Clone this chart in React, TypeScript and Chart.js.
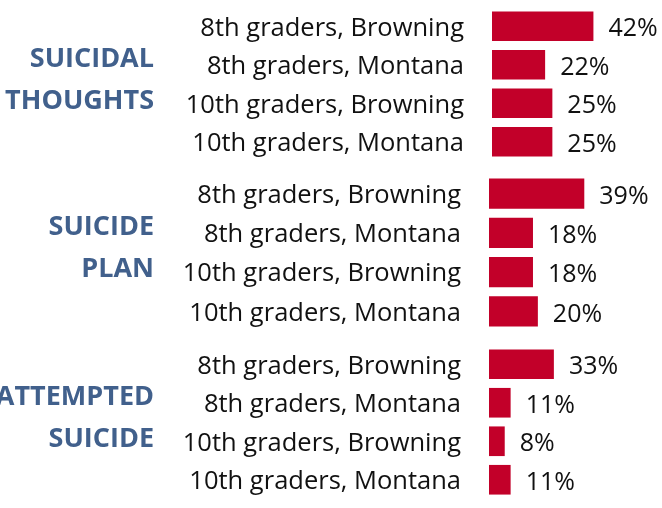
import React, { useEffect, useRef } from "react";
import { Chart, registerables } from "chart.js";

Chart.register(...registerables);

const categories = [
  "8th graders, Browning",
  "8th graders, Montana",
  "10th graders, Browning",
  "10th graders, Montana",
];
const groupTitles = [
  ["SUICIDAL", "THOUGHTS"],
  ["SUICIDE", "PLAN"],
  ["ATTEMPTED", "SUICIDE"],
];
const suicidalThoughts = [42, 22, 25, 25];
const suicidePlan = [39, 18, 18, 20];
const attemptedSuicide = [33, 11, 8, 11];

const FONT = "'Open Sans', sans-serif";
const BAR = "#C20029";
const TITLE = "#41608C";
const PAD = 20;

type BlockProps = {
  values: number[];
  title: string[];
  areaTop: number;
  areaHeight: number;
  axisWidth: number;
  labelGap: number;
  xMax: number;
};

function ChartBlock({ values, title, areaTop, areaHeight, axisWidth, labelGap, xMax }: BlockProps) {
  const ref = useRef<HTMLCanvasElement | null>(null);
  const height = areaHeight + PAD * 2;
  useEffect(() => {
    if (!ref.current) return;
    const valuePlugin = {
      id: "valueLabels",
      afterDatasetsDraw(chart: any) {
        const ctx = chart.ctx;
        const meta = chart.getDatasetMeta(0);
        ctx.save();
        ctx.font = `25px ${FONT}`;
        ctx.fillStyle = "#111";
        ctx.textAlign = "left";
        ctx.textBaseline = "middle";
        meta.data.forEach((bar: any, i: number) => {
          ctx.fillText(`${chart.data.datasets[0].data[i]}%`, bar.x + 15, bar.y + 3);
        });
        ctx.restore();
      },
    };
    const titlePlugin = {
      id: "groupTitle",
      afterDraw(chart: any) {
        const ctx = chart.ctx;
        const a = chart.chartArea;
        const mid = (a.top + a.bottom) / 2;
        ctx.save();
        ctx.font = `bold 27px ${FONT}`;
        ctx.fillStyle = TITLE;
        ctx.textAlign = "right";
        ctx.textBaseline = "middle";
        ctx.fillText(title[0], 154, mid - 25);
        ctx.fillText(title[1], 154, mid + 17);
        ctx.restore();
      },
    };
    const chart = new Chart(ref.current, {
      type: "bar",
      data: {
        labels: categories,
        datasets: [
          {
            data: values,
            backgroundColor: BAR,
            borderWidth: 0,
            barPercentage: 0.77,
            categoryPercentage: 1,
          },
        ],
      },
      options: {
        indexAxis: "y",
        responsive: false,
        animation: false,
        layout: { padding: { top: PAD, bottom: PAD, left: 0, right: 0 } },
        plugins: {
          legend: { display: false },
          tooltip: { enabled: false },
          title: { display: false },
        },
        scales: {
          x: {
            display: false,
            min: 0,
            max: xMax,
          },
          y: {
            grid: {
              display: true,
              drawOnChartArea: false,
              drawTicks: true,
              tickLength: labelGap,
              color: "rgba(0,0,0,0)",
            },
            border: { display: false },
            ticks: {
              color: "#111",
              font: { family: FONT, size: 25.5 },
              padding: 0,
              labelOffset: 2,
            },
            afterFit(scale: any) {
              scale.width = axisWidth;
            },
          },
        },
      },
      plugins: [valuePlugin, titlePlugin],
    });
    return () => chart.destroy();
  }, [values, title, axisWidth, labelGap, xMax, height]);
  return (
    <div style={{ position: "absolute", left: 0, top: areaTop - PAD, width: 662, height }}>
      <canvas ref={ref} width={662} height={height} style={{ display: "block" }} />
    </div>
  );
}

export default function App() {
  return (
    <div
      style={{
        position: "fixed",
        left: 0,
        top: 0,
        width: 662,
        height: 508,
        background: "#fff",
        overflow: "hidden",
      }}
    >
      <ChartBlock values={suicidalThoughts} title={groupTitles[0]} areaTop={7} areaHeight={154} axisWidth={492} labelGap={28} xMax={70.4} />
      <ChartBlock values={suicidePlan} title={groupTitles[1]} areaTop={174} areaHeight={157} axisWidth={489} labelGap={28} xMax={70.8} />
      <ChartBlock values={attemptedSuicide} title={groupTitles[2]} areaTop={345} areaHeight={154} axisWidth={489} labelGap={28} xMax={88} />
    </div>
  );
}
